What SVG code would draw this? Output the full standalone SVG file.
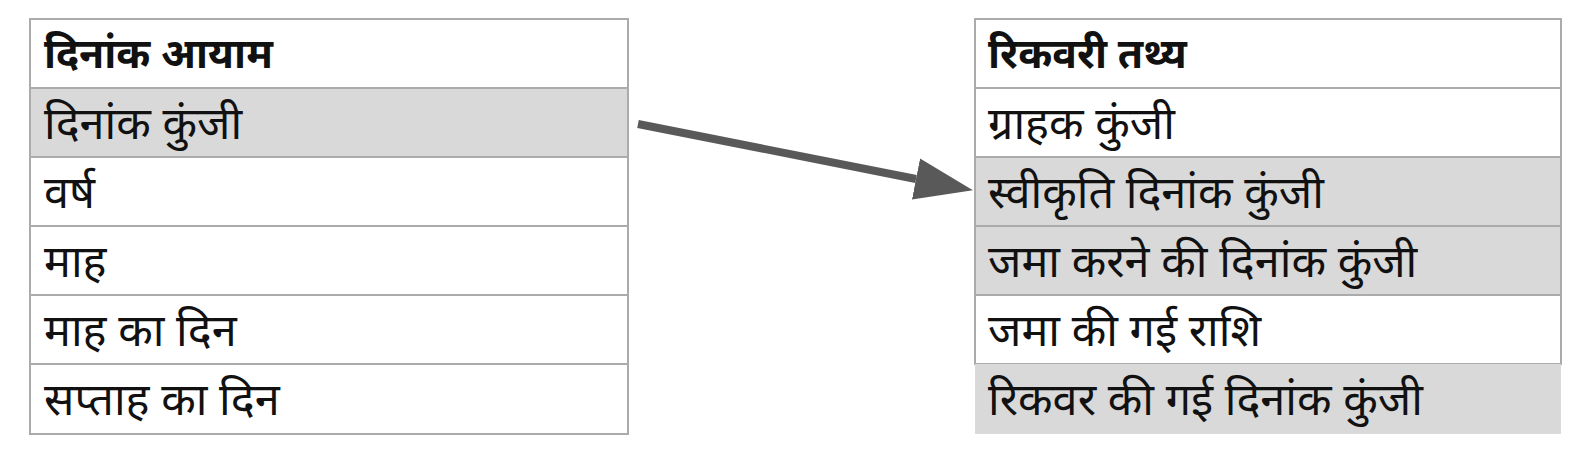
<svg xmlns="http://www.w3.org/2000/svg" width="1580" height="454" viewBox="0 0 1580 454">
<style>
.t{font-family:"Noto Sans Devanagari","Noto Sans","Liberation Sans",sans-serif;font-size:45px;fill:#111}
.h{font-weight:bold;font-size:41px}
.cell{fill:#fff;stroke:#ababab;stroke-width:2}
.hl{fill:#d9d9d9}
.conn{stroke:#595959;stroke-width:8;fill:none}
</style>
<defs>
<marker id="ah" markerUnits="userSpaceOnUse" markerWidth="60" markerHeight="44" refX="0" refY="21" orient="auto">
<path d="M0,0 L58,21 L0,42 z" fill="#595959"/>
</marker>
</defs>
<rect width="1580" height="454" fill="#fff"/>
<g id="date-dim">
<rect class="cell" x="30" y="19" width="598" height="69"/>
<rect class="cell hl" x="30" y="88" width="598" height="69"/>
<rect class="cell" x="30" y="157" width="598" height="69"/>
<rect class="cell" x="30" y="226" width="598" height="69"/>
<rect class="cell" x="30" y="295" width="598" height="69"/>
<rect class="cell" x="30" y="364" width="598" height="70"/>
<text class="t h" x="44" y="68">दिनांक आयाम</text>
<text class="t" x="44" y="139">दिनांक कुंजी</text>
<text class="t" x="44" y="208">वर्ष</text>
<text class="t" x="44" y="277">माह</text>
<text class="t" x="44" y="346">माह का दिन</text>
<text class="t" x="44" y="415">सप्ताह का दिन</text>
</g>
<g id="recovery-fact">
<rect class="cell" x="975" y="19" width="586" height="69"/>
<rect class="cell" x="975" y="88" width="586" height="69"/>
<rect class="cell hl" x="975" y="157" width="586" height="69"/>
<rect class="cell hl" x="975" y="226" width="586" height="69"/>
<rect class="cell" x="975" y="295" width="586" height="69"/>
<rect class="hl" x="975" y="364" width="586" height="70"/>
<text class="t h" x="988" y="68">रिकवरी तथ्य</text>
<text class="t" x="988" y="139">ग्राहक कुंजी</text>
<text class="t" x="988" y="208">स्वीकृति दिनांक कुंजी</text>
<text class="t" x="988" y="277">जमा करने की दिनांक कुंजी</text>
<text class="t" x="988" y="346">जमा की गई राशि</text>
<text class="t" x="988" y="415">रिकवर की गई दिनांक कुंजी</text>
</g>
<g id="connectors">
<line class="conn" x1="638" y1="124" x2="916" y2="179" marker-end="url(#ah)"/>
</g>
</svg>
